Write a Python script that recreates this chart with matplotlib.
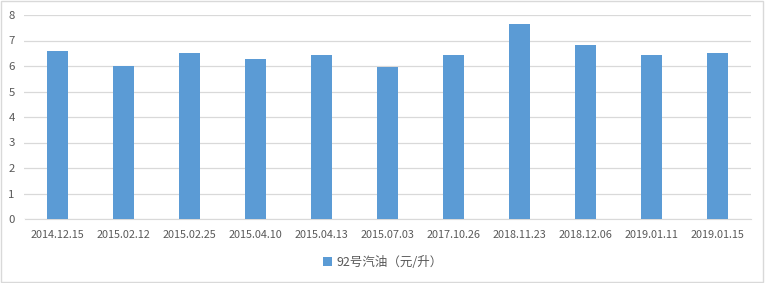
import numpy as np
import matplotlib.pyplot as plt
from matplotlib.patches import Rectangle

plt.rcParams['font.family'] = ['Noto Sans CJK SC', 'DejaVu Sans']

dates = ['2014.12.15', '2015.02.12', '2015.02.25', '2015.04.10', '2015.04.13',
         '2015.07.03', '2017.10.26', '2018.11.23', '2018.12.06', '2019.01.11',
         '2019.01.15']
prices = [6.59, 6.0, 6.51, 6.27, 6.43, 5.96, 6.43, 7.65, 6.82, 6.43, 6.51]
series_name = '92号汽油（元/升）'

bar_color = '#5b9bd5'
grid_color = '#d9d9d9'
text_color = '#595959'

fig = plt.figure(figsize=(7.65, 2.83), dpi=100)
ax = fig.add_axes([24.5 / 765, 64 / 283, 726 / 765, 204 / 283])

x = np.arange(len(dates))
ax.bar(x, prices, width=0.32, color=bar_color, label=series_name, zorder=3)

ax.set_xlim(-0.5, len(dates) - 0.5)
ax.set_ylim(0, 8)
ax.set_yticks(range(0, 9))
ax.set_xticks(x)
ax.set_xticklabels(dates)
ax.grid(axis='y', color=grid_color, linewidth=0.9, zorder=0)
for s in ['top', 'left', 'right']:
    ax.spines[s].set_visible(False)
ax.spines['bottom'].set_color(grid_color)
ax.tick_params(axis='both', length=0, labelsize=7.8, colors=text_color)
ax.tick_params(axis='y', labelsize=8.2, pad=7)
ax.tick_params(axis='x', pad=8)

leg = fig.legend(loc='center', bbox_to_anchor=(383 / 765, 1 - 262 / 283),
                 frameon=False, fontsize=9, handlelength=0.7, handleheight=0.7,
                 handletextpad=0.4)
for t in leg.get_texts():
    t.set_color(text_color)

# outer border of the chart
fig.patches.append(Rectangle((0.001, 0.002), 0.997, 0.995, transform=fig.transFigure,
                             fill=False, edgecolor=grid_color, linewidth=1))

fig.savefig('out.png', dpi=100)
